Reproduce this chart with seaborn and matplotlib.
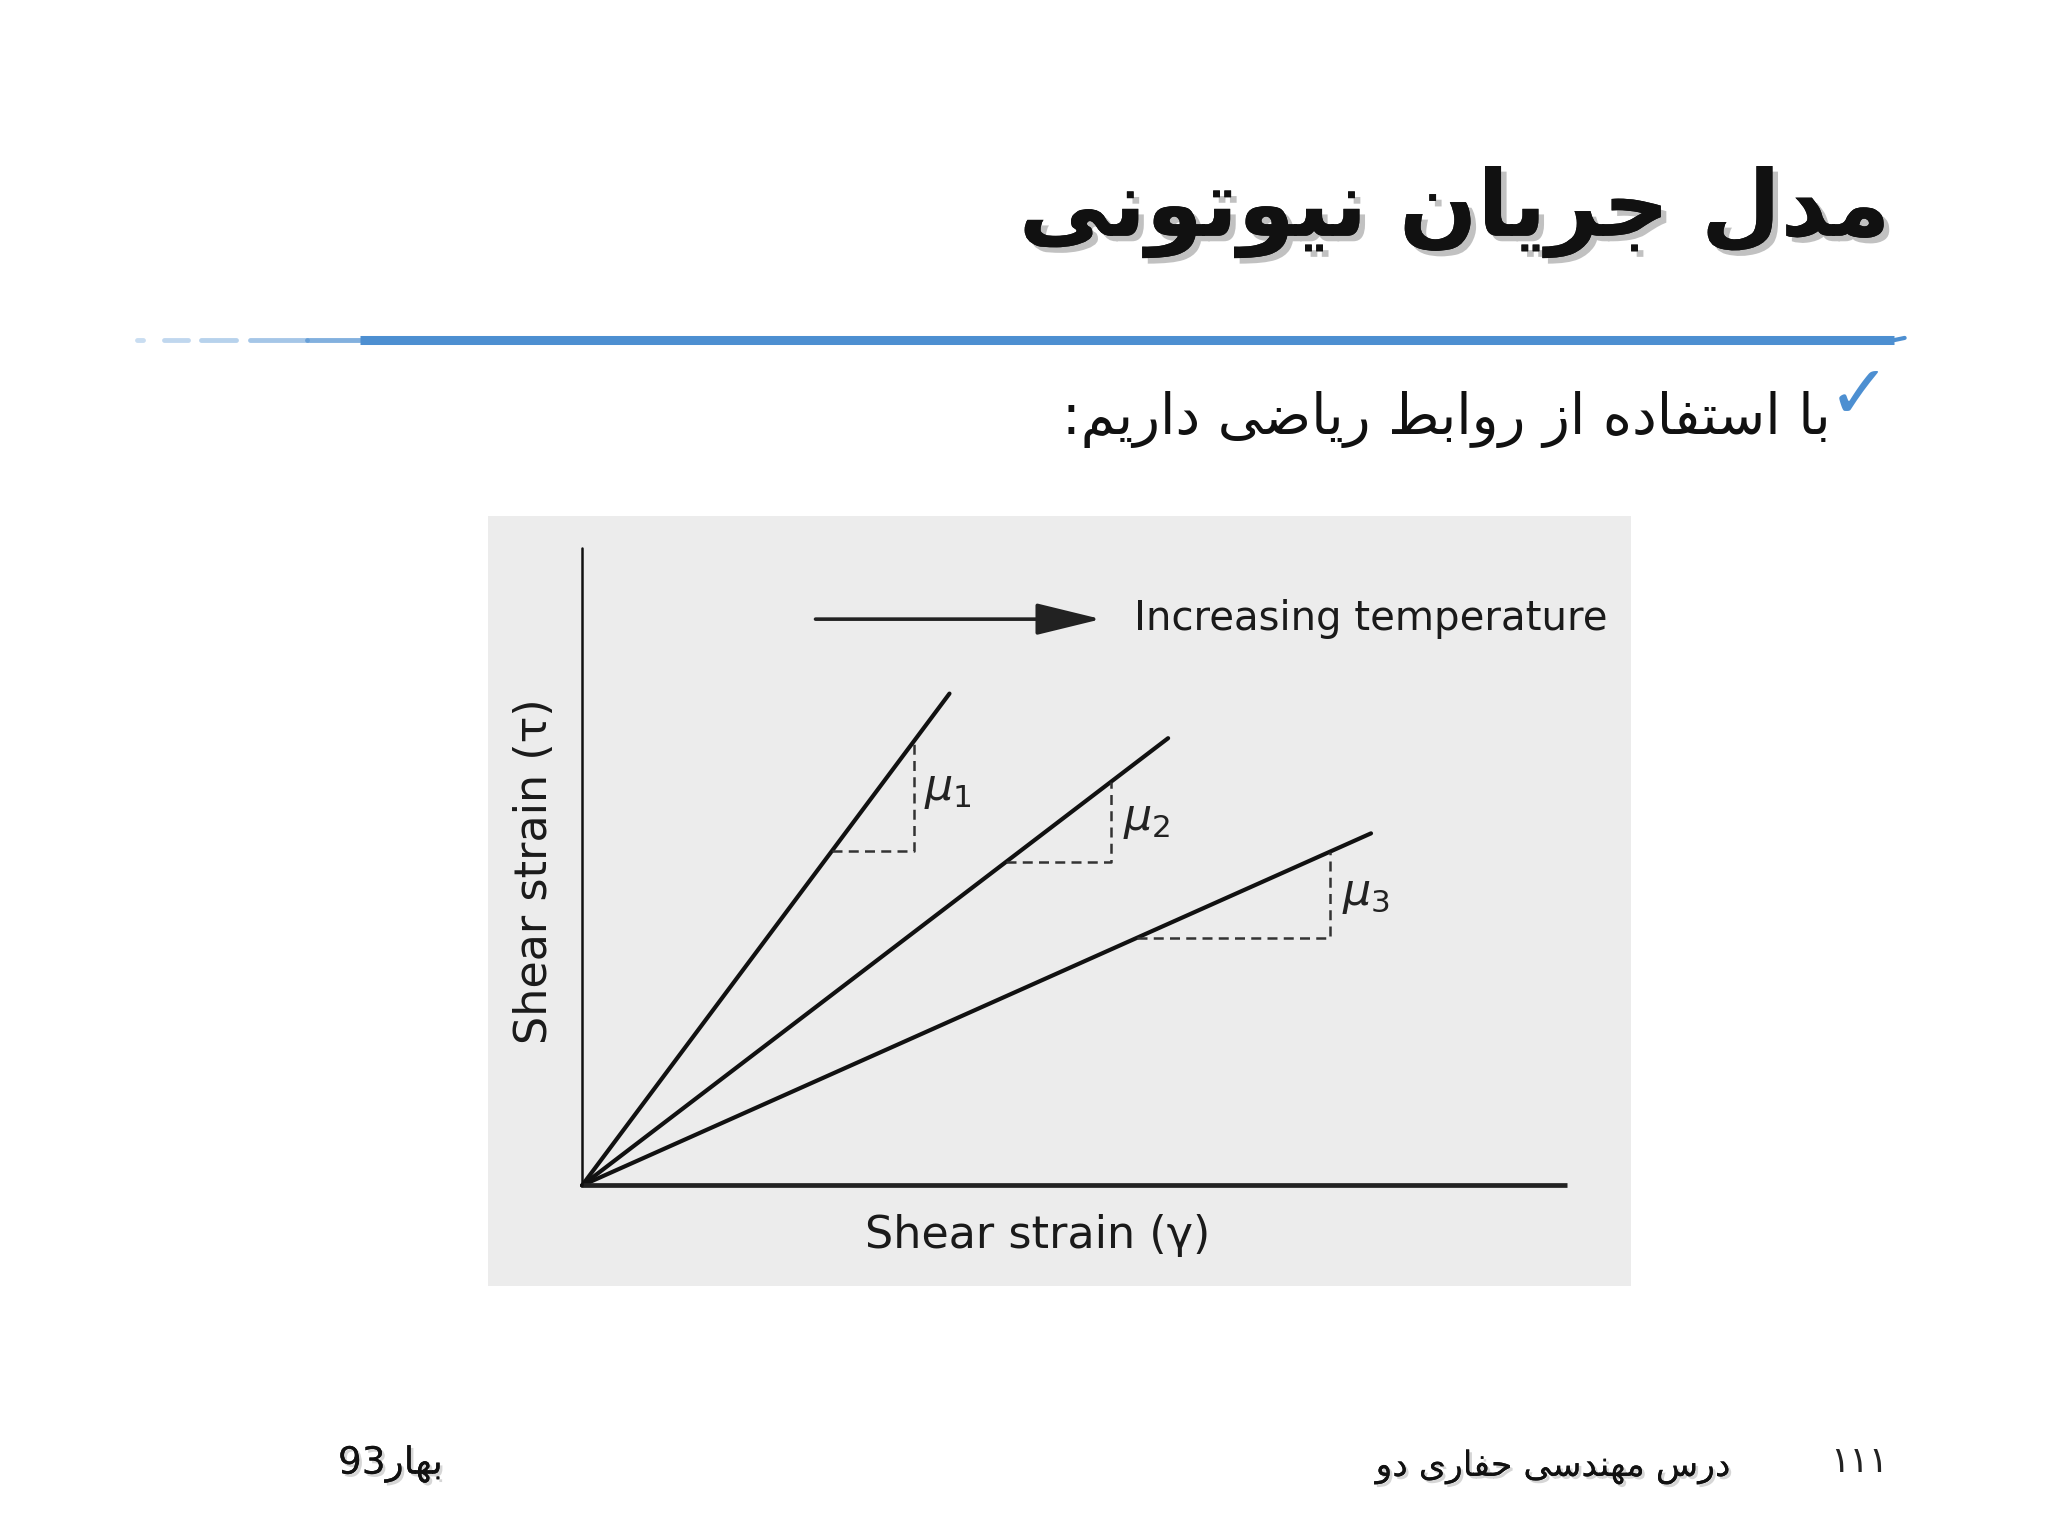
import numpy as np
import pandas as pd
import matplotlib
matplotlib.use("Agg")
import matplotlib.pyplot as plt
import matplotlib.patheffects as pe
from matplotlib.lines import Line2D
import seaborn as sns

# --- slide text ---
title_fa = "مدل جریان نیوتونی"
bullet_fa = "با استفاده از روابط ریاضی داریم:"
course_fa = "درس مهندسی حفاری دو"
season_fa = "بهار"
year_txt = "93"
page_fa = "۱۱۱"

# --- chart data (arbitrary units, origin at the axes corner) ---
series = ["mu1", "mu2", "mu3"]
slopes = [2.07, 1.18, 0.69]
line_end_x = [3.73, 5.95, 8.01]
tri_base_y = [5.25, 5.08, 3.89]
tri_right_x = [3.37, 5.37, 7.59]
mu_labels = [r"$\mu_1$", r"$\mu_2$", r"$\mu_3$"]
mu_label_x = [3.47, 5.49, 7.72]
mu_label_y = [6.21, 5.74, 4.57]
axis_len = [10, 10]
arrow_x = [2.37, 5.27]
arrow_y = 8.89
xlabel = "Shear strain (γ)"
ylabel = "Shear strain (τ)"
arrow_label = "Increasing temperature"

# --- minimal persian shaping (matplotlib has no complex text layout) ---
FORMS = {
    "ا": ("\uFE8D", "\uFE8E", None, None),
    "ب": ("\uFE8F", "\uFE90", "\uFE91", "\uFE92"),
    "ت": ("\uFE95", "\uFE96", "\uFE97", "\uFE98"),
    "ج": ("\uFE9D", "\uFE9E", "\uFE9F", "\uFEA0"),
    "ح": ("\uFEA1", "\uFEA2", "\uFEA3", "\uFEA4"),
    "د": ("\uFEA9", "\uFEAA", None, None),
    "ر": ("\uFEAD", "\uFEAE", None, None),
    "ز": ("\uFEAF", "\uFEB0", None, None),
    "س": ("\uFEB1", "\uFEB2", "\uFEB3", "\uFEB4"),
    "ض": ("\uFEBD", "\uFEBE", "\uFEBF", "\uFEC0"),
    "ط": ("\uFEC1", "\uFEC2", "\uFEC3", "\uFEC4"),
    "ف": ("\uFED1", "\uFED2", "\uFED3", "\uFED4"),
    "ل": ("\uFEDD", "\uFEDE", "\uFEDF", "\uFEE0"),
    "م": ("\uFEE1", "\uFEE2", "\uFEE3", "\uFEE4"),
    "ن": ("\uFEE5", "\uFEE6", "\uFEE7", "\uFEE8"),
    "ه": ("\uFEE9", "\uFEEA", "\uFEEB", "\uFEEC"),
    "و": ("\uFEED", "\uFEEE", None, None),
    "ی": ("\uFEEF", "\uFEF0", "\uFEF3", "\uFEF4"),
}


def shape_fa(text):
    out = []
    n = len(text)
    for i, c in enumerate(text):
        if c not in FORMS:
            out.append(c)
            continue
        iso, fin, ini, med = FORMS[c]
        prev = text[i - 1] if i > 0 else ""
        nxt = text[i + 1] if i < n - 1 else ""
        cp = prev in FORMS and FORMS[prev][2] is not None
        cn = ini is not None and nxt in FORMS
        if cp and cn:
            out.append(med)
        elif cp:
            out.append(fin)
        elif cn:
            out.append(ini)
        else:
            out.append(iso)
    return "".join(out)[::-1]


sns.set_theme(style="white")
plt.rcParams["font.family"] = ["DejaVu Sans"]
plt.rcParams["mathtext.fontset"] = "dejavusans"

fig = plt.figure(figsize=(20.48, 15.36), dpi=100)
fig.patch.set_facecolor("white")

shadow = [pe.withSimplePatchShadow(offset=(4, -4), shadow_rgbFace="#777777", alpha=0.45), pe.Normal()]
small_shadow = [pe.withSimplePatchShadow(offset=(2, -2), shadow_rgbFace="#999999", alpha=0.4), pe.Normal()]

# title
fig.text(0.923, 0.862, shape_fa(title_fa), ha="right", va="center",
         fontsize=66, fontweight="bold", color="#111111", path_effects=shadow)

# blue brush line under the title
blue = "#4d8fd1"
fig.add_artist(Line2D([0.176, 0.925], [0.7786, 0.7786], lw=6.5, color=blue, solid_capstyle="butt"))
fig.add_artist(Line2D([0.925, 0.930], [0.7786, 0.7800], lw=3, color=blue))
for x0, x1, a in [(0.067, 0.070, 0.3), (0.080, 0.092, 0.35), (0.098, 0.115, 0.4),
                  (0.122, 0.150, 0.5), (0.150, 0.176, 0.7)]:
    fig.add_artist(Line2D([x0, x1], [0.7786, 0.7786], lw=3.5, color=blue, alpha=a))

# bullet line
fig.text(0.923, 0.742, "✓", ha="right", va="center", fontsize=54, color=blue)
fig.text(0.894, 0.727, shape_fa(bullet_fa), ha="right", va="center",
         fontsize=40, color="#111111")

# footer
fig.text(0.908, 0.048, page_fa, ha="center", va="center", fontsize=26, color="#222222")
fig.text(0.845, 0.045, shape_fa(course_fa), ha="right", va="center",
         fontsize=25, color="#111111", path_effects=small_shadow)
fig.text(0.165, 0.047, year_txt + shape_fa(season_fa), ha="left", va="center",
         fontsize=27, color="#111111", path_effects=small_shadow)

# --- the scanned figure ---
ax = fig.add_axes([0.2383, 0.1628, 0.5581, 0.5013])
ax.set_facecolor("#ececec")
ax.set_xlim(-0.955, 10.65)
ax.set_ylim(-1.578, 10.51)
ax.set_xticks([])
ax.set_yticks([])
sns.despine(ax=ax, left=True, bottom=True)

rows = []
for name, m, xe in zip(series, slopes, line_end_x):
    rows.append({"x": 0.0, "y": 0.0, "series": name})
    rows.append({"x": xe, "y": m * xe, "series": name})
df = pd.DataFrame(rows)
sns.lineplot(data=df, x="x", y="y", hue="series", palette=["#111111"] * 3,
             linewidth=3.0, legend=False, ax=ax, sort=False)
ax.set_xlabel("")
ax.set_ylabel("")

# axes of the sketch
ax.plot([0, axis_len[0]], [0, 0], color="#222222", lw=3.4, solid_capstyle="butt")
ax.plot([0, 0], [0, axis_len[1]], color="#111111", lw=1.8)

# slope triangles
for m, yb, xr in zip(slopes, tri_base_y, tri_right_x):
    ax.plot([yb / m, xr, xr], [yb, yb, xr * m], color="#333333", lw=1.8,
            linestyle=(0, (4, 2.5)))
for lab, lx, ly in zip(mu_labels, mu_label_x, mu_label_y):
    ax.text(lx, ly, lab, fontsize=32, ha="left", va="center", color="#222222")

# temperature arrow
ax.annotate("", xy=(arrow_x[1], arrow_y), xytext=(arrow_x[0], arrow_y),
            arrowprops=dict(arrowstyle="-|>,head_length=0.9,head_width=0.22",
                            mutation_scale=45, lw=2.6,
                            color="#222222", shrinkA=0, shrinkB=0))
ax.text(arrow_x[1] + 0.33, arrow_y, arrow_label, fontsize=29, ha="left",
        va="center", color="#1a1a1a")

ax.text(4.63, -0.78, xlabel, fontsize=32, ha="center", va="center", color="#1a1a1a")
ax.text(-0.48, 4.94, ylabel, fontsize=32, ha="center", va="center",
        rotation=90, color="#1a1a1a")

fig.savefig("out.png", dpi=100)
